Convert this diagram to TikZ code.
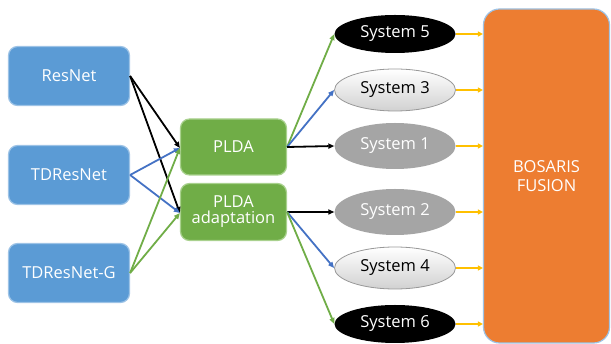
\documentclass[tikz,border=0pt]{standalone}
\usepackage{fontspec}
\setmainfont{Open Sans}
\usetikzlibrary{arrows.meta,shapes.geometric,shadings}
\definecolor{boxblue}{HTML}{5B9BD5}
\definecolor{edgeblue}{HTML}{9DC3E6}
\definecolor{boxgreen}{HTML}{70AD47}
\definecolor{edgegreen}{HTML}{A9D18E}
\definecolor{fuseorange}{HTML}{ED7D31}
\definecolor{linkblue}{HTML}{4472C4}
\definecolor{linkgreen}{HTML}{70AD47}
\definecolor{linkgold}{HTML}{FFC000}
\definecolor{sysgray}{HTML}{A5A5A5}
\tikzset{
  x=1pt, y=-1pt,
  embbox/.style={draw=edgeblue, line width=1.2pt, fill=boxblue, rounded corners=9pt,
    minimum width=121pt, minimum height=59pt, text=white, font=\fontsize{16.5}{18}\selectfont, align=center},
  pldabox/.style={draw=edgegreen, line width=1.2pt, fill=boxgreen, rounded corners=9pt,
    minimum width=106pt, minimum height=56pt, text=white, font=\fontsize{16.5}{17}\selectfont, align=center},
  sysnode/.style={ellipse, minimum width=121pt, minimum height=40pt, inner sep=0pt,
    font=\fontsize{16.5}{18}\selectfont},
  sysblack/.style={sysnode, fill=black, text=white},
  syslight/.style={sysnode, draw=gray!80, line width=0.8pt, top color=white, bottom color=black!18, text=black},
  sysgrey/.style={sysnode, fill=sysgray, text=white},
  link/.style={line width=1.8pt, -{Triangle[length=6pt,width=5pt]}},
  goldlink/.style={line width=1.8pt, linkgold, -{Triangle[length=5pt,width=5pt]}},
}
\begin{document}
\begin{tikzpicture}
\useasboundingbox (0,0) rectangle (611,344);

% embedding extractors
\node[embbox] (resnet) at (69,76) {ResNet};
\node[embbox] (tdresnet) at (69,175) {TDResNet};
\node[embbox] (tdresnetg) at (69,273) {TDResNet-G};

% back-ends
\node[pldabox] (plda) at (233.5,147) {PLDA};
\node[pldabox, minimum height=57pt] (adapt) at (233.5,212) {PLDA\\[-1pt]adaptation};

% systems
\node[sysblack, minimum height=38pt] (s5) at (395,34) {System 5};
\node[syslight, minimum height=42pt] (s3) at (395,90) {System 3};
\node[sysgrey, minimum height=46pt] (s1) at (395,146) {System 1};
\node[sysgrey, minimum height=46pt] (s2) at (395,212) {System 2};
\node[syslight, minimum height=42pt] (s4) at (395,268) {System 4};
\node[sysblack, minimum height=38pt] (s6) at (395,324) {System 6};

% fusion
\node[draw=edgeblue, line width=1.2pt, fill=fuseorange, rounded corners=16pt,
  minimum width=126pt, minimum height=334pt, text=white, align=center,
  font=\fontsize{16.5}{19}\selectfont] (fusion) at (546.5,176) {BOSARIS\\FUSION};

% extractor to back-end links
\draw[link, black] (resnet.east) -- ([yshift=-1pt]plda.west);
\draw[link, black] (resnet.east) -- ([yshift=-1pt]adapt.west);
\draw[link, linkblue] (tdresnet.east) -- ([yshift=-1pt]plda.west);
\draw[link, linkblue] (tdresnet.east) -- ([yshift=-1pt]adapt.west);
\draw[link, linkgreen] (tdresnetg.east) -- ([yshift=-1pt]plda.west);
\draw[link, linkgreen] (tdresnetg.east) -- ([yshift=-1pt]adapt.west);

% back-end to system links
\draw[link, linkgreen] (plda.east) -- (s5.west);
\draw[link, linkblue] (plda.east) -- (s3.west);
\draw[link, black] (plda.east) -- (s1.west);
\draw[link, black] (adapt.east) -- (s2.west);
\draw[link, linkblue] (adapt.east) -- (s4.west);
\draw[link, linkgreen] (adapt.east) -- (s6.west);

% system scores into fusion
\foreach \s in {s5,s3,s1,s2,s4,s6}
  \draw[goldlink] (\s.east) -- (\s.east -| fusion.west);
\end{tikzpicture}
\end{document}
